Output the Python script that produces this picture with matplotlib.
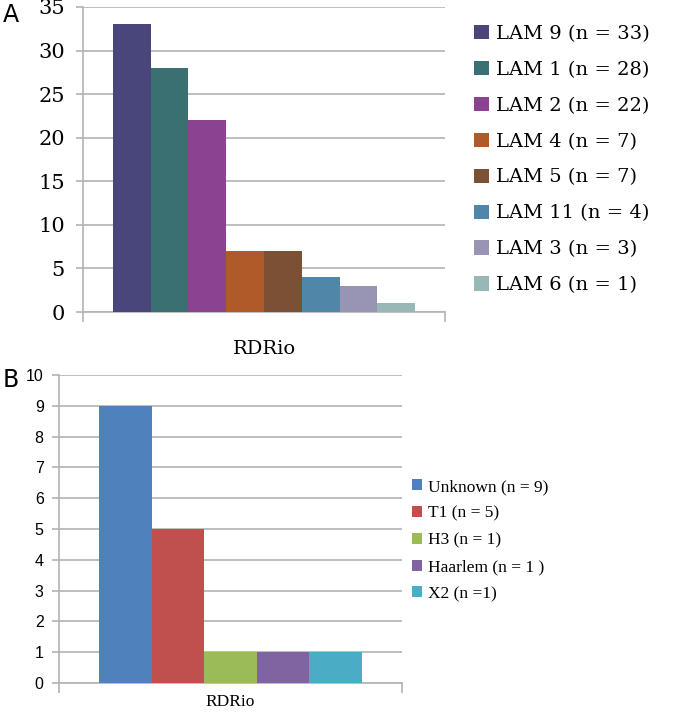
import numpy as np
import matplotlib.pyplot as plt
from matplotlib.patches import Patch

# panel A: LAM sublineages
lam_labels = ['LAM 9 (n = 33)', 'LAM 1 (n = 28)', 'LAM 2 (n = 22)', 'LAM 4 (n = 7)',
              'LAM 5 (n = 7)', 'LAM 11 (n = 4)', 'LAM 3 (n = 3)', 'LAM 6 (n = 1)']
lam_values = [33, 28, 22, 7, 7, 4, 3, 1]
lam_colors = ['#48467a', '#3b7072', '#8b4391', '#af5a28', '#7c5034', '#5087a8', '#9894b4', '#98b8b8']

# panel B: other lineages
oth_labels = ['Unknown (n = 9)', 'T1 (n = 5)', 'H3 (n = 1)', 'Haarlem (n = 1 )', 'X2 (n =1)']
oth_values = [9, 5, 1, 1, 1]
oth_colors = ['#4f81bd', '#c0504d', '#9bbb59', '#8064a2', '#4bacc6']

group_label = 'RDRio'

W, H = 685, 713
fig = plt.figure(figsize=(W / 100, H / 100), dpi=100)


def fx(px):
    return px / W


def fy(py):
    return 1 - py / H


grid_col = '#b3b3b3'


def draw_panel(ax, values, colors, ymax, margin):
    n = len(values)
    x = np.arange(n)
    ax.bar(x, values, width=1.0, color=colors, edgecolor='none', zorder=3)
    xmin, xmax = -0.5 - margin, n - 0.5 + margin
    ax.set_xlim(xmin, xmax)
    ax.set_ylim(0, ymax)
    ax.yaxis.grid(True, color=grid_col, linewidth=1.2, zorder=0)
    for s in ['top', 'right']:
        ax.spines[s].set_visible(False)
    for s in ['left', 'bottom']:
        ax.spines[s].set_color(grid_col)
        ax.spines[s].set_linewidth(1.2)
    ax.set_xticks([(n - 1) / 2])
    ax.set_xticklabels([group_label])
    ax.set_xticks([xmin, xmax], minor=True)
    ax.tick_params(axis='x', which='major', length=0)
    ax.tick_params(axis='x', which='minor', length=7, color=grid_col, width=1.2)
    ax.tick_params(axis='y', length=5, color=grid_col, width=1.2)


# panel A
axA = fig.add_axes([fx(83), fy(312), fx(445) - fx(83), fy(7) - fy(312)])
draw_panel(axA, lam_values, lam_colors, 35, 0.79)
axA.set_yticks(range(0, 36, 5))
axA.tick_params(axis='y', pad=8)
axA.tick_params(axis='x', which='major', pad=20)
for t in axA.get_yticklabels():
    t.set_fontfamily('DejaVu Serif')
    t.set_fontsize(15)
for t in axA.get_xticklabels():
    t.set_fontfamily('DejaVu Serif')
    t.set_fontsize(14)

handlesA = [Patch(facecolor=c, edgecolor='none') for c in lam_colors]
fig.legend(handlesA, lam_labels, loc='upper left', bbox_to_anchor=(fx(474), fy(25)),
           frameon=False, prop={'family': 'DejaVu Serif', 'size': 14},
           handlelength=0.75, handleheight=0.75, handletextpad=0.4, labelspacing=0.92,
           borderaxespad=0, borderpad=0)

# panel B
axB = fig.add_axes([fx(59), fy(683), fx(402) - fx(59), fy(375) - fy(683)])
draw_panel(axB, oth_values, oth_colors, 10, 0.76)
axB.set_yticks(range(0, 11))
axB.tick_params(axis='y', pad=6)
axB.tick_params(axis='x', which='major', pad=8)
for t in axB.get_yticklabels():
    t.set_fontfamily('Liberation Sans')
    t.set_fontsize(11.5)
for t in axB.get_xticklabels():
    t.set_fontfamily('Liberation Serif')
    t.set_fontsize(12.5)

handlesB = [Patch(facecolor=c, edgecolor='none') for c in oth_colors]
fig.legend(handlesB, oth_labels, loc='upper left', bbox_to_anchor=(fx(412), fy(479)),
           frameon=False, prop={'family': 'Liberation Serif', 'size': 12.5},
           handlelength=0.6, handleheight=0.6, handletextpad=0.3, labelspacing=0.62,
           borderaxespad=0, borderpad=0)

fig.text(fx(3), fy(22), 'A', fontsize=17, family='DejaVu Sans')
fig.text(fx(3), fy(387), 'B', fontsize=17, family='DejaVu Sans')

fig.savefig('out.png', dpi=100)
